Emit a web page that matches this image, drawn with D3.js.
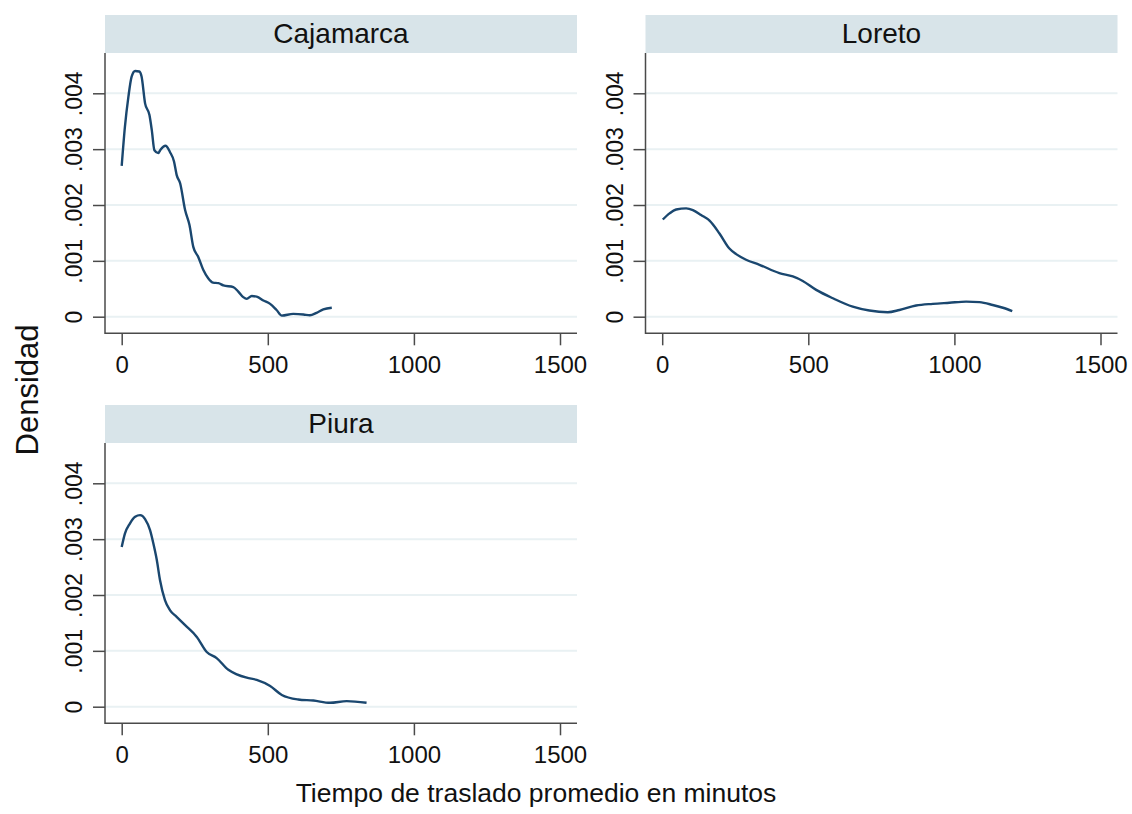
<!DOCTYPE html>
<html>
<head>
<meta charset="utf-8">
<script src="https://cdn.jsdelivr.net/npm/d3@7"></script>
<style>
  html, body { margin: 0; padding: 0; background: #fff; }
  svg { display: block; font-family: "Liberation Sans", Arial, Helvetica, sans-serif; }
</style>
</head>
<body>
<svg id="chart" width="1132" height="814"></svg>
<script>
// ---- data (time in minutes, density) ----
const panels = ["Cajamarca", "Loreto", "Piura"];
const xTicks = [0, 500, 1000, 1500];
const yTicks = [0, 0.001, 0.002, 0.003, 0.004];
const yTickLabels = ["0", ".001", ".002", ".003", ".004"];
const xTitle = "Tiempo de traslado promedio en minutos";
const yTitle = "Densidad";

const cajamarcaT = [0, 11, 23, 34, 46, 60, 68, 80, 95, 103, 112, 125, 134, 150, 165, 179, 188, 200, 217, 232, 245, 262, 279, 296, 313, 331, 348, 382, 399, 416, 428, 445, 462, 485, 508, 530, 548, 587, 622, 644, 667, 690, 719];
const cajamarcaD = [0.00270, 0.00340, 0.00394, 0.00430, 0.00440, 0.00439, 0.00430, 0.00382, 0.00361, 0.00334, 0.00298, 0.00293, 0.00300, 0.00306, 0.00295, 0.00278, 0.00254, 0.00239, 0.00191, 0.00164, 0.00125, 0.00107, 0.00084, 0.00069, 0.00061, 0.00060, 0.00056, 0.00053, 0.00045, 0.00035, 0.00032, 0.00037, 0.00036, 0.00029, 0.00023, 0.00012, 0.00002, 0.00005, 0.00004, 0.000025, 0.00007, 0.00013, 0.00016];

const loretoT = [2, 25, 48, 82, 105, 133, 162, 196, 230, 253, 287, 333, 401, 447, 481, 527, 584, 652, 709, 772, 812, 869, 926, 983, 1040, 1086, 1131, 1166, 1198];
const loretoD = [0.00174, 0.00185, 0.00192, 0.00194, 0.00191, 0.00182, 0.00172, 0.00149, 0.00122, 0.00112, 0.00102, 0.00093, 0.00078, 0.00072, 0.00064, 0.00048, 0.00033, 0.00018, 0.00011, 0.00008, 0.00012, 0.00020, 0.00023, 0.00025, 0.00027, 0.00026, 0.00021, 0.00016, 0.00010];

const piuraT = [0, 11, 28, 46, 63, 80, 97, 108, 120, 131, 148, 165, 188, 217, 257, 291, 325, 365, 394, 428, 462, 508, 548, 604, 656, 713, 770, 838];
const piuraD = [0.00286, 0.00310, 0.00328, 0.00340, 0.00343, 0.00336, 0.00316, 0.00293, 0.00263, 0.00227, 0.00191, 0.00173, 0.00161, 0.00146, 0.00125, 0.00098, 0.00087, 0.00066, 0.00058, 0.00052, 0.00048, 0.00037, 0.00021, 0.00013, 0.00011, 0.00007, 0.00010, 0.00007];

const series = [
  { name: panels[0], col: 0, row: 0, t: cajamarcaT, d: cajamarcaD },
  { name: panels[1], col: 1, row: 0, t: loretoT, d: loretoD },
  { name: panels[2], col: 0, row: 1, t: piuraT, d: piuraD }
];

// ---- layout ----
const svg = d3.select("#chart");
const colStep = 540.5, rowStep = 390;
const box = { left: 105, right: 577, stripTop: 15, top: 53, bottom: 333.3 };
const x = d3.scaleLinear().domain([0, 1500]).range([121.7, 560]);
const y = d3.scaleLinear().domain([0, 0.004]).range([316.7, 93.3]);

const lineColor = "#1a476f";
const gridColor = "#e9f1f3";
const stripColor = "#d8e4e9";
const axisColor = "#4a4a4a";

series.forEach(s => {
  const g = svg.append("g")
    .attr("transform", `translate(${s.col * colStep},${s.row * rowStep})`);

  // strip
  g.append("rect")
    .attr("x", box.left).attr("y", box.stripTop)
    .attr("width", box.right - box.left).attr("height", box.top - box.stripTop)
    .attr("fill", stripColor);
  g.append("text")
    .attr("x", (box.left + box.right) / 2).attr("y", 43)
    .attr("text-anchor", "middle")
    .attr("font-size", 28)
    .attr("fill", "#111")
    .text(s.name);

  // gridlines
  g.selectAll("line.grid").data(yTicks).enter().append("line")
    .attr("class", "grid")
    .attr("x1", box.left).attr("x2", box.right)
    .attr("y1", d => y(d)).attr("y2", d => y(d))
    .attr("stroke", gridColor).attr("stroke-width", 2);

  // x axis
  const xa = g.append("g")
    .attr("transform", `translate(0,${box.bottom})`)
    .call(d3.axisBottom(x).tickValues(xTicks).tickSize(12).tickPadding(11).tickFormat(d3.format("d")));
  xa.select(".domain").remove();
  xa.selectAll(".tick line").attr("stroke", axisColor).attr("stroke-width", 1.5);
  xa.selectAll(".tick text").attr("font-size", 24).attr("fill", "#111")
    .attr("font-family", "'Liberation Sans', Arial, sans-serif");

  // y axis
  const ya = g.append("g")
    .attr("transform", `translate(${box.left},0)`)
    .call(d3.axisLeft(y).tickValues(yTicks).tickSize(12)
      .tickFormat((d, i) => yTickLabels[i]));
  ya.select(".domain").remove();
  ya.selectAll(".tick line").attr("stroke", axisColor).attr("stroke-width", 1.5);
  ya.selectAll(".tick text")
    .attr("transform", "rotate(-90)")
    .attr("x", 0).attr("y", -23).attr("dy", 0)
    .attr("text-anchor", "middle")
    .attr("font-size", 23).attr("fill", "#111")
    .attr("font-family", "'Liberation Sans', Arial, sans-serif");

  // axis lines
  g.append("line")
    .attr("x1", box.left).attr("x2", box.left)
    .attr("y1", box.top).attr("y2", box.bottom + 0.75)
    .attr("stroke", axisColor).attr("stroke-width", 1.5);
  g.append("line")
    .attr("x1", box.left).attr("x2", box.right)
    .attr("y1", box.bottom).attr("y2", box.bottom)
    .attr("stroke", axisColor).attr("stroke-width", 1.5);

  // density curve
  const pts = s.t.map((t, i) => [t, s.d[i]]);
  g.append("path")
    .datum(pts)
    .attr("fill", "none")
    .attr("stroke", lineColor)
    .attr("stroke-width", 2.4)
    .attr("stroke-linejoin", "round")
    .attr("d", d3.line().x(p => x(p[0])).y(p => y(p[1])).curve(d3.curveMonotoneX));
});

// titles
svg.append("text")
  .attr("x", 536).attr("y", 802)
  .attr("text-anchor", "middle")
  .attr("font-size", 26.5).attr("fill", "#111")
  .text(xTitle);
svg.append("text")
  .attr("transform", "translate(38,390) rotate(-90)")
  .attr("text-anchor", "middle")
  .attr("font-size", 31).attr("fill", "#111")
  .text(yTitle);
</script>
</body>
</html>
